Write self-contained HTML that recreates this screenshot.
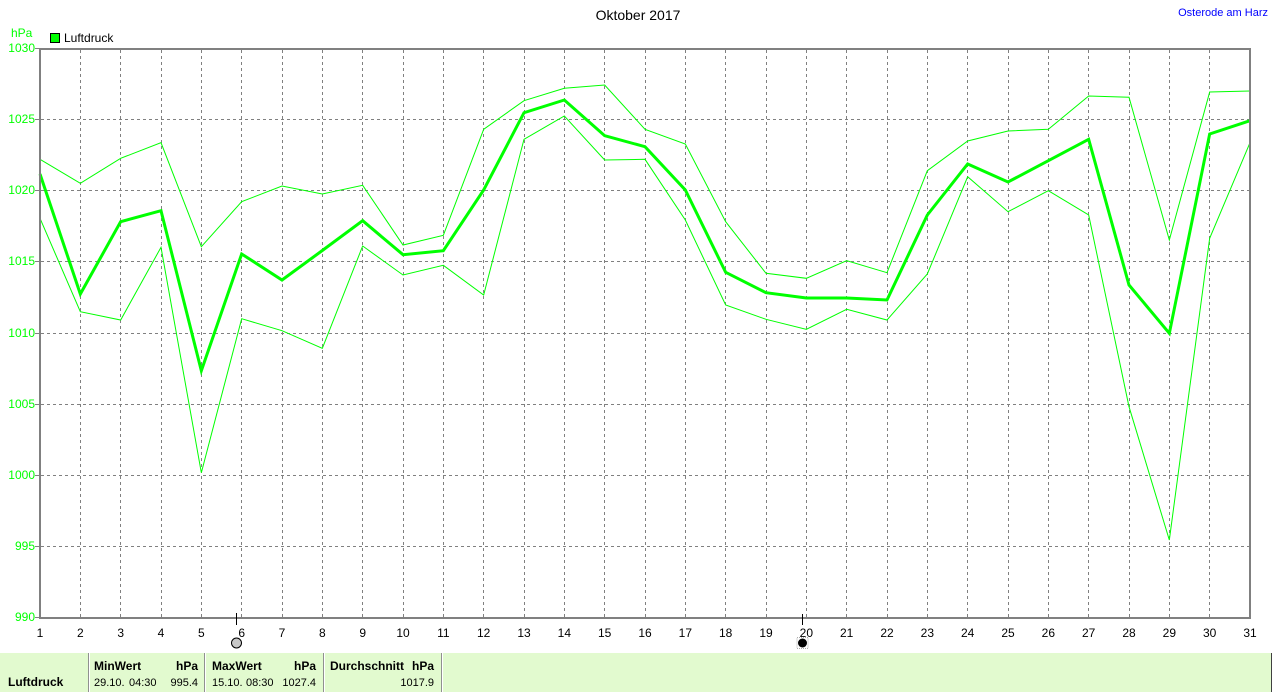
<!DOCTYPE html>
<html><head><meta charset="utf-8"><style>
html,body{margin:0;padding:0;background:#fff;}
body{width:1274px;height:692px;overflow:hidden;position:relative;font-family:"Liberation Sans",sans-serif;}
svg{position:absolute;left:0;top:0;}
</style></head><body>
<svg width="1274" height="692" viewBox="0 0 1274 692" xmlns="http://www.w3.org/2000/svg" font-family="Liberation Sans, sans-serif">
<rect x="0" y="0" width="1274" height="692" fill="#fff"/>
<text x="638" y="20" font-size="14" text-anchor="middle" fill="#000">Oktober 2017</text>
<text x="1268" y="16" font-size="11" text-anchor="end" fill="#0000ff">Osterode am Harz</text>
<text x="11" y="37" font-size="12" fill="#00ff00">hPa</text>
<rect x="50.5" y="33.5" width="9" height="9" fill="#00ff00" stroke="#000" stroke-width="1"/>
<text x="64" y="42" font-size="12" fill="#000">Luftdruck</text>

<g stroke="#808080" stroke-width="1" stroke-dasharray="3,3" shape-rendering="crispEdges">
<line x1="80.5" y1="50" x2="80.5" y2="617"/><line x1="120.5" y1="50" x2="120.5" y2="617"/><line x1="161.5" y1="50" x2="161.5" y2="617"/><line x1="201.5" y1="50" x2="201.5" y2="617"/><line x1="241.5" y1="50" x2="241.5" y2="617"/><line x1="282.5" y1="50" x2="282.5" y2="617"/><line x1="322.5" y1="50" x2="322.5" y2="617"/><line x1="362.5" y1="50" x2="362.5" y2="617"/><line x1="403.5" y1="50" x2="403.5" y2="617"/><line x1="443.5" y1="50" x2="443.5" y2="617"/><line x1="483.5" y1="50" x2="483.5" y2="617"/><line x1="524.5" y1="50" x2="524.5" y2="617"/><line x1="564.5" y1="50" x2="564.5" y2="617"/><line x1="604.5" y1="50" x2="604.5" y2="617"/><line x1="645.5" y1="50" x2="645.5" y2="617"/><line x1="685.5" y1="50" x2="685.5" y2="617"/><line x1="725.5" y1="50" x2="725.5" y2="617"/><line x1="766.5" y1="50" x2="766.5" y2="617"/><line x1="806.5" y1="50" x2="806.5" y2="617"/><line x1="846.5" y1="50" x2="846.5" y2="617"/><line x1="887.5" y1="50" x2="887.5" y2="617"/><line x1="927.5" y1="50" x2="927.5" y2="617"/><line x1="967.5" y1="50" x2="967.5" y2="617"/><line x1="1008.5" y1="50" x2="1008.5" y2="617"/><line x1="1048.5" y1="50" x2="1048.5" y2="617"/><line x1="1088.5" y1="50" x2="1088.5" y2="617"/><line x1="1129.5" y1="50" x2="1129.5" y2="617"/><line x1="1169.5" y1="50" x2="1169.5" y2="617"/><line x1="1209.5" y1="50" x2="1209.5" y2="617"/>
<line x1="41" y1="119.5" x2="1249" y2="119.5"/><line x1="41" y1="190.5" x2="1249" y2="190.5"/><line x1="41" y1="261.5" x2="1249" y2="261.5"/><line x1="41" y1="333.5" x2="1249" y2="333.5"/><line x1="41" y1="404.5" x2="1249" y2="404.5"/><line x1="41" y1="475.5" x2="1249" y2="475.5"/><line x1="41" y1="546.5" x2="1249" y2="546.5"/>
</g>

<g fill="none" stroke="#00ff00" stroke-linejoin="miter">
<polyline stroke-width="1" points="40,159.3 80.33,183.3 120.67,158.3 161,142.7 201.33,246.7 241.67,201.7 282,186 322.33,194 362.67,185.3 403,245 443.33,235.3 483.67,129.3 524,100.7 564.33,88.3 604.67,85 645,129.3 685.33,144 725.67,221.7 766,273.3 806.33,278.3 846.67,260.7 887,272.7 927.33,170.7 967.67,141 1008,131 1048.33,129.3 1088.67,96 1129,97.3 1169.33,240 1209.67,92 1250,91"/>
<polyline stroke-width="3" points="40,174 80.33,294 120.67,221.7 161,210.7 201.33,370.7 241.67,254 282,280 322.33,250.5 362.67,220.7 403,254.7 443.33,250.7 483.67,190 524,112.7 564.33,100 604.67,135.7 645,146.7 685.33,190 725.67,272.3 766,292.7 806.33,298 846.67,298 887,300 927.33,215 967.67,164 1008,182 1048.33,160.7 1088.67,139.3 1129,285 1169.33,333.3 1209.67,134 1250,120.7"/>
<polyline stroke-width="1" points="40,218.3 80.33,311.7 120.67,320 161,247.3 201.33,472.7 241.67,318.7 282,330.7 322.33,348.3 362.67,246 403,275 443.33,265.3 483.67,295 524,139.3 564.33,116 604.67,160 645,159.3 685.33,220 725.67,305 766,319.3 806.33,329.3 846.67,309.3 887,320 927.33,274 967.67,176.7 1008,211.7 1048.33,190.7 1088.67,215 1129,406.7 1169.33,540 1209.67,238.3 1250,142.7"/>
</g>

<rect x="40" y="49" width="1210" height="569" fill="none" stroke="#808080" stroke-width="2"/>

<g stroke="#808080" stroke-width="1" shape-rendering="crispEdges">
<line x1="35" y1="48.5" x2="40" y2="48.5"/><line x1="35" y1="119.5" x2="40" y2="119.5"/><line x1="35" y1="190.5" x2="40" y2="190.5"/><line x1="35" y1="261.5" x2="40" y2="261.5"/><line x1="35" y1="333.5" x2="40" y2="333.5"/><line x1="35" y1="404.5" x2="40" y2="404.5"/><line x1="35" y1="475.5" x2="40" y2="475.5"/><line x1="35" y1="546.5" x2="40" y2="546.5"/><line x1="35" y1="617.5" x2="40" y2="617.5"/>
</g>
<g font-size="12" fill="#00ff00" text-anchor="end">
<text x="35" y="52">1030</text><text x="35" y="123">1025</text><text x="35" y="194">1020</text><text x="35" y="265">1015</text><text x="35" y="337">1010</text><text x="35" y="408">1005</text><text x="35" y="479">1000</text><text x="35" y="550">995</text><text x="35" y="621">990</text>
</g>
<g font-size="12" fill="#000" text-anchor="middle">
<text x="40" y="637">1</text><text x="80.33" y="637">2</text><text x="120.67" y="637">3</text><text x="161" y="637">4</text><text x="201.33" y="637">5</text><text x="241.67" y="637">6</text><text x="282" y="637">7</text><text x="322.33" y="637">8</text><text x="362.67" y="637">9</text><text x="403" y="637">10</text><text x="443.33" y="637">11</text><text x="483.67" y="637">12</text><text x="524" y="637">13</text><text x="564.33" y="637">14</text><text x="604.67" y="637">15</text><text x="645" y="637">16</text><text x="685.33" y="637">17</text><text x="725.67" y="637">18</text><text x="766" y="637">19</text><text x="806.33" y="637">20</text><text x="846.67" y="637">21</text><text x="887" y="637">22</text><text x="927.33" y="637">23</text><text x="967.67" y="637">24</text><text x="1008" y="637">25</text><text x="1048.33" y="637">26</text><text x="1088.67" y="637">27</text><text x="1129" y="637">28</text><text x="1169.33" y="637">29</text><text x="1209.67" y="637">30</text><text x="1250" y="637">31</text>
</g>

<line x1="236.5" y1="613" x2="236.5" y2="625" stroke="#000" stroke-width="1"/>
<circle cx="236.5" cy="643" r="5" fill="#c8c8c8" stroke="#000" stroke-width="1"/>
<line x1="802.5" y1="614" x2="802.5" y2="625" stroke="#000" stroke-width="1"/>
<rect x="797" y="637.5" width="11" height="11" fill="none" stroke="#aaa" stroke-width="1" stroke-dasharray="1,1"/>
<circle cx="802.5" cy="643" r="4.5" fill="#000"/>

<rect x="0" y="653" width="1271" height="39" fill="#e2facf"/>
<line x1="1271.5" y1="653" x2="1271.5" y2="692" stroke="#404040" stroke-width="1"/>
<g stroke-width="1" shape-rendering="crispEdges">
<line x1="88.5" y1="653" x2="88.5" y2="692" stroke="#909090"/><line x1="89.5" y1="653" x2="89.5" y2="692" stroke="#fff"/>
<line x1="204.5" y1="653" x2="204.5" y2="692" stroke="#909090"/><line x1="205.5" y1="653" x2="205.5" y2="692" stroke="#fff"/>
<line x1="323.5" y1="653" x2="323.5" y2="692" stroke="#909090"/><line x1="324.5" y1="653" x2="324.5" y2="692" stroke="#fff"/>
<line x1="441.5" y1="653" x2="441.5" y2="692" stroke="#909090"/><line x1="442.5" y1="653" x2="442.5" y2="692" stroke="#fff"/>
</g>
<g font-size="12" fill="#000">
<text x="8" y="686" font-weight="bold">Luftdruck</text>
<text x="94" y="670" font-weight="bold">MinWert</text><text x="198" y="670" font-weight="bold" text-anchor="end">hPa</text>
<text x="212" y="670" font-weight="bold">MaxWert</text><text x="316" y="670" font-weight="bold" text-anchor="end">hPa</text>
<text x="330" y="670" font-weight="bold">Durchschnitt</text><text x="434" y="670" font-weight="bold" text-anchor="end">hPa</text>
</g>
<g font-size="11" fill="#000">
<text x="94" y="686">29.10.</text><text x="129" y="686">04:30</text><text x="198" y="686" text-anchor="end">995.4</text>
<text x="212" y="686">15.10.</text><text x="246" y="686">08:30</text><text x="316" y="686" text-anchor="end">1027.4</text>
<text x="434" y="686" text-anchor="end">1017.9</text>
</g>
</svg>
</body></html>
